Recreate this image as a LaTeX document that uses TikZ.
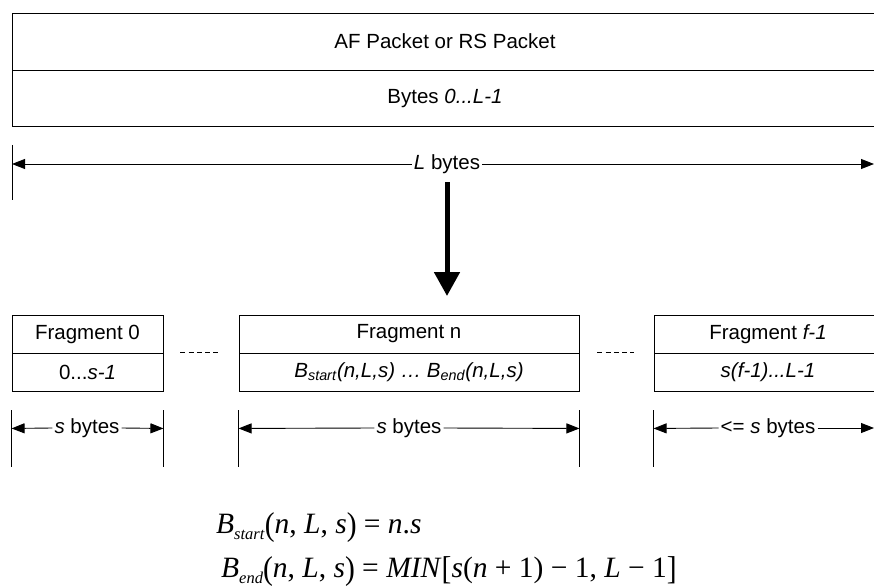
\documentclass[tikz,border=0pt]{standalone}
\usepackage{fontspec}
\setmainfont{Liberation Sans}
\newfontfamily\formfont{Liberation Serif}
\usepackage{graphicx}
\usetikzlibrary{arrows.meta,calc}
\newcommand{\tallp}[1]{\raisebox{-2.5pt}{\scalebox{1}[1.12]{#1}}}
\newcommand{\subtxt}[1]{\raisebox{-6pt}{\fontsize{16.5}{16.5}\selectfont\textit{#1}}}
\begin{document}
\begin{tikzpicture}[x=1pt,y=-1pt,
  txt/.style={font=\fontsize{20.5}{24}\selectfont},
  cell/.style={draw, line width=0.9pt, inner sep=0pt, txt},
  dimlab/.style={txt, inner xsep=2pt, inner ysep=0pt, fill=white},
  tickline/.style={line width=0.9pt},
  dimline/.style={line width=0.9pt, -{Triangle[length=13pt,width=10pt]}},
  bigarrow/.style={line width=5pt, -{Triangle[length=24pt,width=25pt]}},
  dashline/.style={line width=0.9pt, dash pattern=on 5pt off 3.25pt},
  formula/.style={font=\formfont\fontsize{29.5}{34}\selectfont, inner sep=0pt, anchor=base west}]
\useasboundingbox (0,0) rectangle (874,588);
\clip (0,0) rectangle (874,588);

% top packet
\node[cell, minimum width=866pt, minimum height=57pt] (afp) at (445,41.5) {AF Packet or RS Packet};
\node[cell, minimum width=866pt, minimum height=56pt] (byt) at (445,98) {Bytes \textit{0...L-1}};

% L bytes dimension
\coordinate (Lt1) at (12,145);
\coordinate (Lt2) at (12,200);
\draw[tickline] (Lt1) -- (Lt2);
\node[dimlab] (Llab) at (447,164) {\textit{L} bytes};
\coordinate (Lleft) at (12,164);
\coordinate (Lright) at (874,164);
\draw[dimline] (Llab.west) -- (Lleft);
\draw[dimline] (Llab.east) -- (Lright);

% big arrow
\coordinate (a1) at (447,182);
\coordinate (a2) at (447,296);
\draw[bigarrow] (a1) -- (a2);

% fragments
\node[cell, minimum width=151pt, minimum height=38pt] (f0a) at (87.5,334) {Fragment 0};
\node[cell, minimum width=151pt, minimum height=38pt] (f0b) at (87.5,372) {0...\textit{s-1}};
\node[cell, minimum width=340pt, minimum height=38pt] (fna) at (409,334) {Fragment n};
\node[cell, minimum width=340pt, minimum height=38pt] (fnb) at (409,372) {\textit{B}\textsubscript{\textit{start}}\textit{(n,L,s)} \textit{…} \textit{B}\textsubscript{\textit{end}}\textit{(n,L,s)}};
\node[cell, minimum width=228pt, minimum height=38pt] (ffa) at (768,334) {Fragment \textit{f-1}};
\node[cell, minimum width=228pt, minimum height=38pt] (ffb) at (768,372) {\textit{s(f-1)...L-1}};

% dashes between fragments
\draw[dashline] ($(f0b.north east)+(17,0)$) -- ($(fnb.north west)+(-21,0)$);
\draw[dashline] ($(fnb.north east)+(18,0)$) -- ($(ffb.north west)+(-20,0)$);

% fragment dimension ticks
\foreach \n in {f0b.south west, f0b.south east, fnb.south west, fnb.south east, ffb.south west}{
  \draw[tickline] ($(\n)+(0,19)$) -- ($(\n)+(0,76)$);
}

% fragment dimensions
\node[dimlab] (d0) at (87,428) {\textit{s} bytes};
\draw[dimline] (d0.west) -- ($(f0b.south west)+(0,37)$);
\draw[dimline] (d0.east) -- ($(f0b.south east)+(0,37)$);
\node[dimlab] (dn) at (409,428) {\textit{s} bytes};
\draw[dimline] (dn.west) -- ($(fnb.south west)+(0,37)$);
\draw[dimline] (dn.east) -- ($(fnb.south east)+(0,37)$);
\node[dimlab] (df) at (768,428) {<= \textit{s} bytes};
\coordinate (dfr) at (874,428);
\draw[dimline] (df.west) -- ($(ffb.south west)+(0,37)$);
\draw[dimline] (df.east) -- (dfr);

% formulas
\node[formula] (eq1) at (216,533) {\textit{B}\subtxt{start}\tallp{(}\textit{n}, \textit{L}, \textit{s}\tallp{)} = \textit{n}.\textit{s}};
\node[formula] (eq2) at (221,577) {\textit{B}\subtxt{end}\tallp{(}\textit{n}, \textit{L}, \textit{s}\tallp{)} = \textit{MIN}\tallp{[}\textit{s}(\textit{n} + 1) − 1, \textit{L} − 1\tallp{]}};
\end{tikzpicture}
\end{document}
